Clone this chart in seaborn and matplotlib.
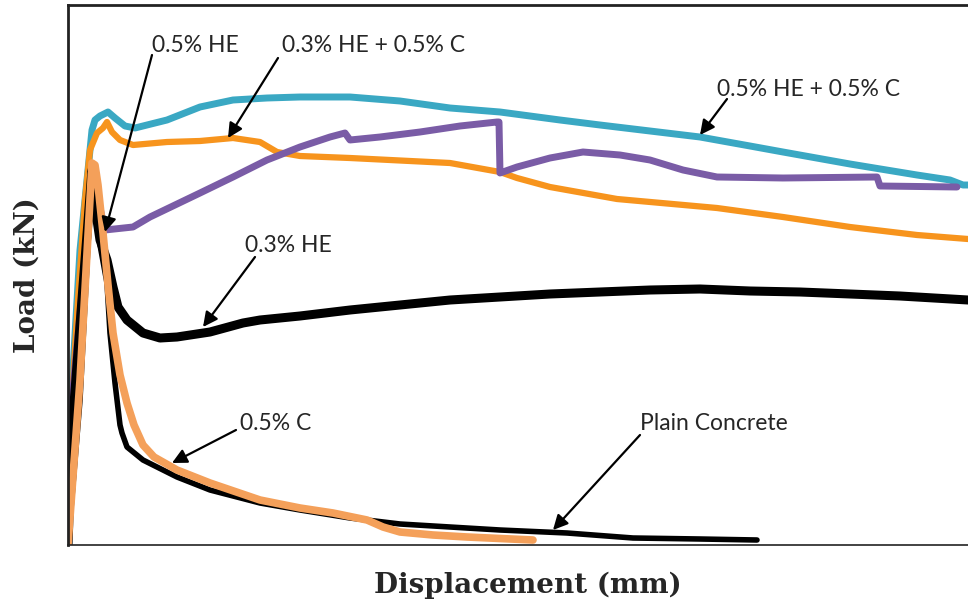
import matplotlib
matplotlib.use("Agg")
import matplotlib.pyplot as plt
import seaborn as sns
import pandas as pd

# ---- data (displacement in mm, load in kN) ----
teal_x = [0, 0.01, 0.06, 0.10, 0.12, 0.135, 0.16, 0.20, 0.235, 0.285, 0.335, 0.495, 0.66, 0.825, 0.995,
          1.16, 1.41, 1.66, 1.91, 2.16, 2.46, 2.66, 2.91, 3.16, 3.41, 3.575, 3.91, 4.245, 4.41, 4.475, 4.5]
teal_y = [0, 12.5, 29.5, 37.5, 41.5, 42.5, 42.9, 43.3, 42.7, 41.9, 41.7, 42.5, 43.8, 44.5, 44.7,
          44.8, 44.8, 44.4, 43.7, 43.3, 42.5, 42.0, 41.4, 40.8, 39.9, 39.3, 38.1, 37.0, 36.5, 36.0, 36.0]

orng_x = [0, 0.01, 0.05, 0.085, 0.11, 0.145, 0.175, 0.195, 0.22, 0.26, 0.325, 0.495, 0.66, 0.825, 0.96,
          1.045, 1.16, 1.41, 1.91, 2.16, 2.245, 2.41, 2.745, 3.245, 3.575, 3.91, 4.245, 4.5]
orng_y = [0, 11.5, 24.5, 34.5, 39.5, 41.2, 41.7, 42.3, 41.3, 40.5, 40.0, 40.3, 40.4, 40.7, 40.3,
          39.3, 38.9, 38.7, 38.2, 37.3, 36.7, 35.8, 34.6, 33.7, 32.8, 31.8, 31.0, 30.6]

purp_x = [0, 0.02, 0.085, 0.12, 0.145, 0.185, 0.325, 0.41, 0.66, 0.825, 0.995, 1.16, 1.31, 1.385, 1.41,
          1.56, 1.76, 1.96, 2.145, 2.155, 2.16, 2.245, 2.41, 2.575, 2.76, 2.91, 3.075, 3.245, 3.575,
          4.045, 4.06, 4.445]
purp_y = [0, 14.5, 28.5, 36.0, 35.0, 31.5, 31.8, 32.8, 35.2, 36.8, 38.5, 39.8, 40.8, 41.2, 40.5,
          40.8, 41.3, 41.9, 42.3, 42.3, 37.2, 37.8, 38.7, 39.3, 39.0, 38.5, 37.5, 36.8, 36.7,
          36.8, 35.9, 35.8]

he3_x = [0, 0.02, 0.085, 0.12, 0.13, 0.145, 0.16, 0.195, 0.225, 0.25, 0.295, 0.375, 0.46, 0.545, 0.71,
         0.875, 0.96, 1.16, 1.41, 1.66, 1.91, 2.16, 2.41, 2.66, 2.91, 3.16, 3.41, 3.66, 3.91, 4.16, 4.5]
he3_y = [0, 11.5, 28.5, 37.5, 36.0, 32.5, 30.5, 28.5, 25.8, 23.8, 22.5, 21.2, 20.7, 20.8, 21.3,
         22.2, 22.5, 22.9, 23.5, 24.0, 24.5, 24.8, 25.1, 25.3, 25.5, 25.6, 25.4, 25.3, 25.1, 24.9, 24.5]

plain_x = [0, 0.06, 0.12, 0.14, 0.16, 0.195, 0.21, 0.235, 0.26, 0.27, 0.295, 0.375, 0.545, 0.71, 0.96,
           1.16, 1.41, 1.66, 1.91, 2.16, 2.495, 2.825, 3.16, 3.445]
plain_y = [0, 14.5, 37.8, 34.0, 30.0, 26.2, 21.2, 16.2, 12.0, 11.2, 9.8, 8.5, 6.8, 5.5, 4.2,
           3.5, 2.7, 2.1, 1.8, 1.5, 1.2, 0.7, 0.6, 0.5]

c5_x = [0, 0.06, 0.12, 0.135, 0.15, 0.175, 0.20, 0.225, 0.26, 0.295, 0.33, 0.375, 0.43, 0.545, 0.71,
        0.96, 1.16, 1.325, 1.495, 1.575, 1.66, 1.825, 1.995, 2.325]
c5_y = [0, 16.5, 38.2, 38.0, 36.0, 31.2, 26.0, 21.2, 17.0, 14.2, 12.0, 10.0, 8.8, 7.5, 6.2,
        4.5, 3.7, 3.2, 2.5, 1.8, 1.3, 1.0, 0.8, 0.5]

labels = ["0.5% HE", "0.3% HE + 0.5% C", "0.5% HE + 0.5% C", "0.3% HE", "0.5% C", "Plain Concrete"]
label_text_pos = [(0.42, 50.0), (1.07, 50.0), (3.245, 45.5), (0.885, 30.0), (0.86, 12.2), (2.86, 12.2)]
arrow_tail = [(0.42, 49.0), (1.05, 48.7), (3.295, 44.6), (0.935, 28.8), (0.84, 11.5), (2.86, 11.0)]
arrow_head = [(0.185, 31.3), (0.80, 40.7), (3.16, 41.0), (0.675, 21.8), (0.52, 8.2), (2.425, 1.5)]

# ---- plot ----
sns.set_style("white")
fig = plt.figure(figsize=(9.68, 6.04), dpi=100)
ax = fig.add_axes([68 / 968, 59 / 604, 900 / 968, 540 / 604])

series = [
    (teal_x, teal_y, "#3aa8c3", 5.0),
    (orng_x, orng_y, "#f7941d", 4.5),
    (purp_x, purp_y, "#7a5ca6", 5.0),
    (he3_x, he3_y, "#000000", 6.5),
    (plain_x, plain_y, "#000000", 4.0),
    (c5_x, c5_y, "#f4a05a", 5.5),
]
for xs, ys, col, lw in series:
    df = pd.DataFrame({"Displacement": xs, "Load": ys})
    sns.lineplot(data=df, x="Displacement", y="Load", ax=ax, color=col, linewidth=lw,
                 sort=False, estimator=None, solid_capstyle="round", solid_joinstyle="round")

ax.set_xlim(0, 4.5)
ax.set_ylim(0, 54)
ax.set_xticks([])
ax.set_yticks([])
for s in ["left", "top"]:
    ax.spines[s].set_linewidth(2.0)
    ax.spines[s].set_color("#222222")
ax.spines["bottom"].set_linewidth(1.2)
ax.spines["bottom"].set_color("#222222")
ax.spines["right"].set_visible(False)

for lab, tp, tail, head in zip(labels, label_text_pos, arrow_tail, arrow_head):
    ax.text(tp[0], tp[1], lab, fontsize=16.5, family="Lato", ha="left", va="center", color="#262626")
    ax.annotate("", xy=head, xytext=tail,
                arrowprops=dict(arrowstyle="-|>", color="black", lw=1.6, mutation_scale=22,
                                shrinkA=0, shrinkB=0))

ax.set_xlabel("Displacement (mm)", fontsize=20, fontweight="bold", family="DejaVu Serif", labelpad=19)
ax.xaxis.label.set_x(0.511)
ax.set_ylabel("Load (kN)", fontsize=20, fontweight="bold", family="DejaVu Serif", labelpad=20)

fig.savefig("out.png", dpi=100)
